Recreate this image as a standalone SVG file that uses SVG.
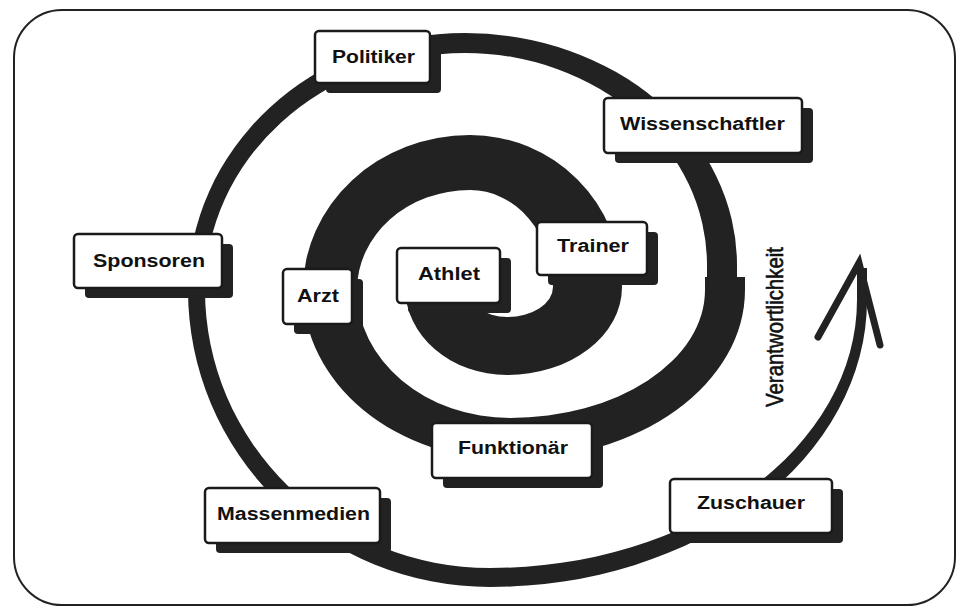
<svg xmlns="http://www.w3.org/2000/svg" width="957" height="608" viewBox="0 0 957 608">
  <defs>
    <style>
      .frame { fill:none; stroke:#222; stroke-width:2; }
      .band { fill:#222; stroke:none; }
      .head { fill:none; stroke:#222; stroke-width:7; stroke-linecap:round; stroke-linejoin:miter; }
      .shadow { fill:#222; }
      .box { fill:#fff; stroke:#1a1a1a; stroke-width:2.5; }
      .lbl { font-family:"Liberation Sans", Arial, sans-serif; font-weight:bold; font-size:18px; fill:#111; }
      .side { font-family:"Liberation Sans", Arial, sans-serif; font-size:20px; fill:#111; stroke:#111; stroke-width:0.5; }
    </style>
  </defs>
  <rect width="957" height="608" fill="#fff"/>
  <rect class="frame" x="14" y="10" width="941" height="595" rx="48" ry="48"/>

  <g id="connectors">
    <!-- inner spiral + thick ring -->
    <path class="band" d="M405,287 A102,88 0 0 0 507,375 A115,88 0 0 0 622,287 A152,152 0 0 0 470,135 A167,155 0 0 0 303,290 A207,170 0 0 0 510,460 A235,170 0 0 0 745,290 L745,277 L705,277 L705,290 A195,128 0 0 1 510,418 A153,128 0 0 1 357,290 A113,100 0 0 1 470,190 A83,97 0 0 1 553,287 A46,30 0 0 1 507,317 A40,30 0 0 1 467,287 Z"/>
    <!-- outer thin spiral ending in arrow -->
    <path class="band" d="M707,285 L737,285 L737,265 A272,232 0 0 0 465,33 A277,257 0 0 0 188,290 A302,297 0 0 0 490,587 A377,287 0 0 0 867,300 L867,268 L857,268 L857,300 A367,268 0 0 1 490,568 A285,278 0 0 1 205,290 A260,237 0 0 1 465,53 A242,212 0 0 1 707,265 Z"/>
    <polyline class="head" points="818,337 859,263 880,345"/>
  </g>

  <text class="side" transform="translate(783,407) scale(1.18,1) rotate(-90)" textLength="160" lengthAdjust="spacingAndGlyphs">Verantwortlichkeit</text>

  <g id="node-politiker">
    <rect class="shadow" x="326" y="41" width="115" height="52" rx="4"/>
    <rect class="box" x="315" y="31" width="115" height="52" rx="4"/>
    <text class="lbl" x="332" y="63" textLength="83" lengthAdjust="spacingAndGlyphs">Politiker</text>
  </g>
  <g id="node-wissenschaftler">
    <rect class="shadow" x="615" y="108" width="198" height="55" rx="4"/>
    <rect class="box" x="604" y="98" width="198" height="55" rx="4"/>
    <text class="lbl" x="620" y="130" textLength="165" lengthAdjust="spacingAndGlyphs">Wissenschaftler</text>
  </g>
  <g id="node-trainer">
    <rect class="shadow" x="548" y="232" width="110" height="53" rx="4"/>
    <rect class="box" x="537" y="222" width="110" height="53" rx="4"/>
    <text class="lbl" x="557" y="252" textLength="72" lengthAdjust="spacingAndGlyphs">Trainer</text>
  </g>
  <g id="node-sponsoren">
    <rect class="shadow" x="85" y="244" width="148" height="54" rx="4"/>
    <rect class="box" x="74" y="234" width="148" height="54" rx="4"/>
    <text class="lbl" x="93" y="267" textLength="112" lengthAdjust="spacingAndGlyphs">Sponsoren</text>
  </g>
  <g id="node-arzt">
    <rect class="shadow" x="294" y="279" width="69" height="55" rx="4"/>
    <rect class="box" x="283" y="269" width="69" height="55" rx="4"/>
    <text class="lbl" x="297" y="302" textLength="42" lengthAdjust="spacingAndGlyphs">Arzt</text>
  </g>
  <g id="node-athlet">
    <rect class="shadow" x="408" y="258" width="103" height="55" rx="4"/>
    <rect class="box" x="397" y="248" width="103" height="55" rx="4"/>
    <text class="lbl" x="418" y="280" textLength="62" lengthAdjust="spacingAndGlyphs">Athlet</text>
  </g>
  <g id="node-funktionaer">
    <rect class="shadow" x="443" y="433" width="160" height="55" rx="4"/>
    <rect class="box" x="432" y="423" width="160" height="55" rx="4"/>
    <text class="lbl" x="458" y="454" textLength="110" lengthAdjust="spacingAndGlyphs">Funktionär</text>
  </g>
  <g id="node-massenmedien">
    <rect class="shadow" x="216" y="498" width="175" height="55" rx="4"/>
    <rect class="box" x="205" y="488" width="175" height="55" rx="4"/>
    <text class="lbl" x="217" y="520" textLength="153" lengthAdjust="spacingAndGlyphs">Massenmedien</text>
  </g>
  <g id="node-zuschauer">
    <rect class="shadow" x="681" y="489" width="162" height="54" rx="4"/>
    <rect class="box" x="670" y="479" width="162" height="54" rx="4"/>
    <text class="lbl" x="697" y="509" textLength="108" lengthAdjust="spacingAndGlyphs">Zuschauer</text>
  </g>
</svg>
